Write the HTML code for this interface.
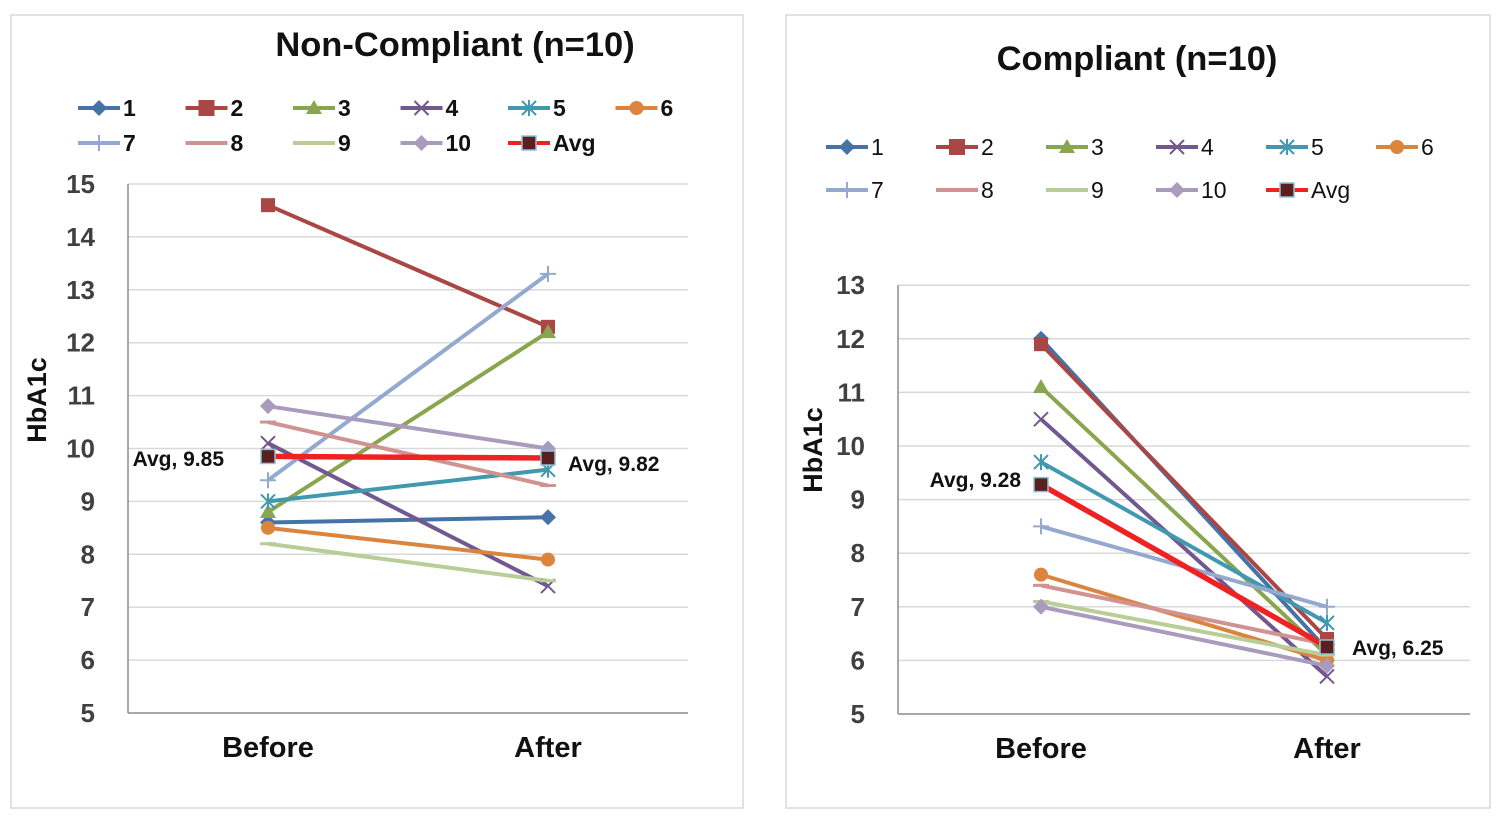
<!DOCTYPE html>
<html><head><meta charset="utf-8"><style>
body{margin:0;background:#fff;width:1500px;height:820px;overflow:hidden}
svg text{font-family:"Liberation Sans",Arial,sans-serif}
</style></head><body>
<svg id="s" width="1500" height="820" xmlns="http://www.w3.org/2000/svg">
<rect x="11" y="15" width="732" height="793" fill="none" stroke="#d9d9d9" stroke-width="1.5"/>
<rect x="786" y="15" width="704" height="793" fill="none" stroke="#d9d9d9" stroke-width="1.5"/>
</svg>
<script>
const S=document.getElementById('s');const NS='http://www.w3.org/2000/svg';
function el(t,a,txt){const e=document.createElementNS(NS,t);for(const k in a)e.setAttribute(k,a[k]);if(txt!==undefined)e.textContent=txt;S.appendChild(e);return e;}
const C=['#4572A7','#AA4643','#89A54E','#71588F','#4198AF','#DB843D','#93A9CF','#D19392','#B9CD96','#A99BBD'];
function marker(i,x,y,sz){const c=i<10?C[i]:'#5c1f1f';sz=sz||8;
 switch(i){
 case 0:el('polygon',{points:`${x},${y-sz} ${x+sz},${y} ${x},${y+sz} ${x-sz},${y}`,fill:c});break;
 case 1:el('rect',{x:x-sz+1,y:y-sz+1,width:2*sz-2,height:2*sz-2,fill:c});break;
 case 2:el('polygon',{points:`${x},${y-sz} ${x+sz},${y+sz-2} ${x-sz},${y+sz-2}`,fill:c});break;
 case 3:el('path',{d:`M${x-7},${y-7}L${x+7},${y+7}M${x-7},${y+7}L${x+7},${y-7}`,stroke:c,'stroke-width':2});break;
 case 4:el('path',{d:`M${x-7},${y-7}L${x+7},${y+7}M${x-7},${y+7}L${x+7},${y-7}M${x},${y-8}L${x},${y+8}`,stroke:c,'stroke-width':2});break;
 case 5:el('circle',{cx:x,cy:y,r:sz-1,fill:c});break;
 case 6:el('path',{d:`M${x-8},${y}L${x+8},${y}M${x},${y-8}L${x},${y+8}`,stroke:c,'stroke-width':2});break;
 case 7:el('path',{d:`M${x-8},${y}L${x+8},${y}`,stroke:c,'stroke-width':3});break;
 case 8:el('path',{d:`M${x-8},${y}L${x+8},${y}`,stroke:c,'stroke-width':3});break;
 case 9:el('polygon',{points:`${x},${y-sz} ${x+sz},${y} ${x},${y+sz} ${x-sz},${y}`,fill:c});break;
 case 10:el('rect',{x:x-7,y:y-7,width:14,height:14,fill:'#5c1f1f',stroke:'#8fc3d3','stroke-width':1.5});break;}
}
function chart(o){
 for(let v=o.min;v<=o.max;v++){const y=o.y0-(v-o.min)*o.k;
  if(v>o.min)el('line',{x1:o.x0,x2:o.x1,y1:y,y2:y,stroke:'#d9d9d9','stroke-width':1.5});
  el('text',{x:o.x0-33,y:y+9,'text-anchor':'end','font-size':26,'font-weight':'bold',fill:'#404040'},v);}
 el('line',{x1:o.x0,x2:o.x0,y1:o.y0-(o.max-o.min)*o.k,y2:o.y0,stroke:'#8c8c8c','stroke-width':1.5});
 el('line',{x1:o.x0,x2:o.x1,y1:o.y0,y2:o.y0,stroke:'#8c8c8c','stroke-width':1.5});
 el('text',{x:o.bx,y:o.y0+44,'text-anchor':'middle','font-size':29,'font-weight':'bold',fill:'#111'},'Before');
 el('text',{x:o.ax,y:o.y0+44,'text-anchor':'middle','font-size':29,'font-weight':'bold',fill:'#111'},'After');
 el('text',{x:o.tx,y:o.ty,'text-anchor':'middle','font-size':34.5,'font-weight':'bold',fill:'#111'},o.title);
 el('text',{transform:`translate(${o.yx},${o.yy}) rotate(-90)`,'text-anchor':'middle','font-size':27,'font-weight':'bold',fill:'#111'},'HbA1c');
 const Y=v=>o.y0-(v-o.min)*o.k;
 o.d.forEach((d,i)=>{const c=i<10?C[i]:'#ee2222';
  el('line',{x1:o.bx,y1:Y(d[0]),x2:o.ax,y2:Y(d[1]),stroke:c,'stroke-width':i<10?4:5.5});});
 o.d.forEach((d,i)=>{marker(i,o.bx,Y(d[0]));marker(i,o.ax,Y(d[1]));});
 const lab=['1','2','3','4','5','6','7','8','9','10','Avg'];
 lab.forEach((l,i)=>{const r=Math.floor(i/6),cI=i%6;const x=o.lx+cI*o.ls,y=o.ly[r];
  el('line',{x1:x,x2:x+42,y1:y,y2:y,stroke:i<10?C[i]:'#ee2222','stroke-width':4});
  marker(i,x+21,y,i==1?9:8);
  el('text',{x:x+45,y:y+8,'font-size':23,'font-weight':o.lb?'bold':'normal',fill:'#111'},l);});
 o.lbls.forEach(t=>el('text',{x:t[0],y:t[1],'text-anchor':t[3]||'start','font-size':21,'font-weight':'bold',fill:'#111'},t[2]));
}
chart({min:5,max:15,x0:128,x1:688,y0:713,k:52.9,bx:268,ax:548,tx:455,ty:56,title:'Non-Compliant (n=10)',yx:46,yy:400,
 lx:78,ls:107.5,ly:[108,143],lb:true,
 d:[[8.6,8.7],[14.6,12.3],[8.8,12.2],[10.1,7.4],[9.0,9.6],[8.5,7.9],[9.4,13.3],[10.5,9.3],[8.2,7.5],[10.8,10.0],[9.85,9.82]],
 lbls:[[224,466,'Avg, 9.85','end'],[568,471,'Avg, 9.82']]});
chart({min:5,max:13,x0:898,x1:1470,y0:714,k:53.6,bx:1041,ax:1327,tx:1137,ty:70,title:'Compliant (n=10)',yx:822,yy:450,
 lx:826,ls:110,ly:[147,190],lb:false,
 d:[[12.0,6.2],[11.9,6.4],[11.1,6.1],[10.5,5.7],[9.7,6.7],[7.6,6.0],[8.5,7.0],[7.4,6.3],[7.1,6.1],[7.0,5.9],[9.28,6.25]],
 lbls:[[1021,487,'Avg, 9.28','end'],[1352,655,'Avg, 6.25']]});
</script>
</body></html>
